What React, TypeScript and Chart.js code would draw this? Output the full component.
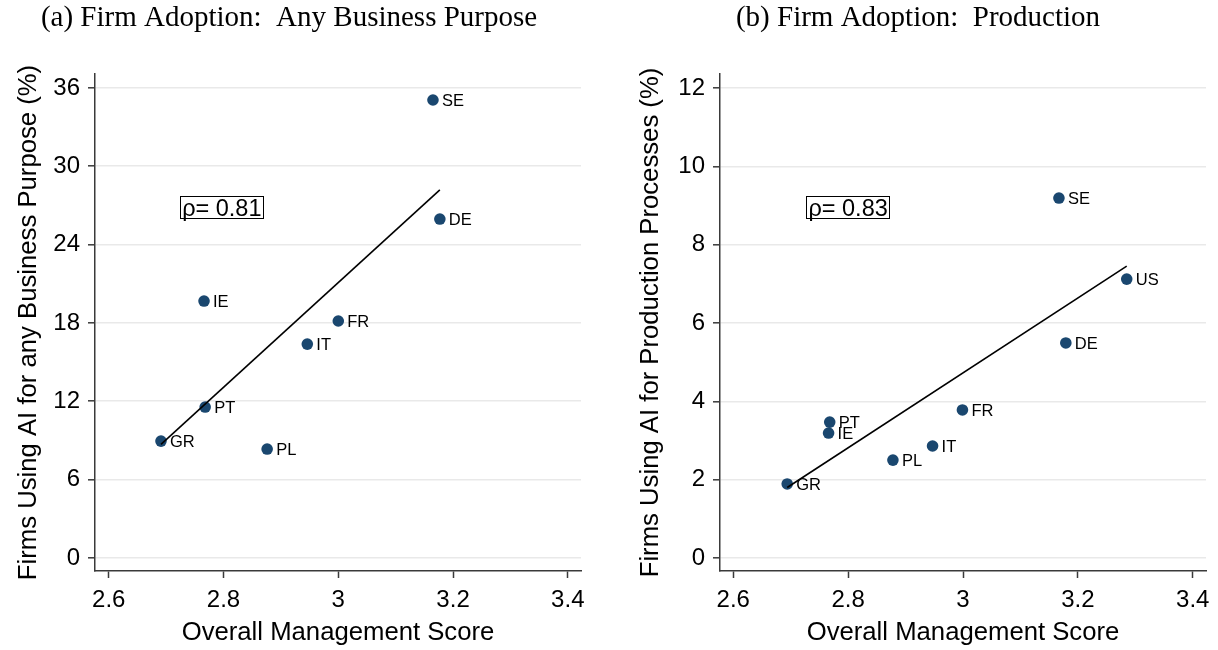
import React, { useEffect, useRef } from "react";
import { Chart, registerables } from "chart.js";

Chart.register(...registerables);

// ---------- data ----------
const xTicks = [2.6, 2.8, 3, 3.2, 3.4];

const countriesA = ["SE", "DE", "IE", "FR", "IT", "PT", "GR", "PL"];
const mgmtA = [3.165, 3.177, 2.766, 3.0, 2.946, 2.768, 2.691, 2.876];
const adoptAny = [35.08, 25.96, 19.68, 18.15, 16.38, 11.56, 8.95, 8.34];
const fitAnyX = [2.691, 3.177];
const fitAnyY = [8.7, 28.2];
const yTicksA = [0, 6, 12, 18, 24, 30, 36];
const rhoA = "ρ= 0.81";

const countriesB = ["SE", "US", "DE", "FR", "PT", "IE", "IT", "PL", "GR"];
const mgmtB = [3.167, 3.285, 3.179, 2.999, 2.768, 2.766, 2.947, 2.878, 2.694];
const adoptProd = [9.19, 7.12, 5.49, 3.78, 3.47, 3.19, 2.86, 2.5, 1.89];
const fitProdX = [2.694, 3.285];
const fitProdY = [1.8, 7.45];
const yTicksB = [0, 2, 4, 6, 8, 10, 12];
const rhoB = "ρ= 0.83";

// ---------- styles ----------
const SANS = "'Liberation Sans', Arial, sans-serif";
const SERIF = "'Liberation Serif', 'Times New Roman', serif";
const NAVY = "#1a476f";
const AXIS = "#3a3a3a";
const GRID = "#e9e9e9";

type PanelProps = {
  left: number;
  title: string;
  titleX: number;
  yTitle: string;
  yTitlePad: number;
  yWidth: number;
  padRight: number;
  xMin: number;
  xMax: number;
  yMin: number;
  yMax: number;
  yTicks: number[];
  labels: string[];
  xs: number[];
  ys: number[];
  fitX: number[];
  fitY: number[];
  rho: string;
  rhoX: number;
  rhoY: number;
};

const decorPlugin = {
  id: "panelDecor",
  afterDatasetsDraw(chart: any, _args: any, opts: any) {
    const ctx = chart.ctx as CanvasRenderingContext2D;
    ctx.save();
    // point labels
    const meta = chart.getDatasetMeta(1);
    ctx.font = `16.5px ${SANS}`;
    ctx.fillStyle = "#000";
    ctx.textAlign = "left";
    ctx.textBaseline = "middle";
    meta.data.forEach((pt: any, i: number) => {
      ctx.fillText(opts.labels[i], pt.x + 9, pt.y + 1.5);
    });
    // rho box
    const cx = chart.scales.x.getPixelForValue(opts.rhoX);
    const cy = chart.scales.y.getPixelForValue(opts.rhoY);
    ctx.font = `23.5px ${SANS}`;
    const w = ctx.measureText(opts.rho).width;
    ctx.textAlign = "center";
    ctx.textBaseline = "alphabetic";
    ctx.fillText(opts.rho, cx, cy + 8.5);
    ctx.strokeStyle = "#000";
    ctx.lineWidth = 1;
    ctx.strokeRect(Math.round(cx - w / 2 - 2) + 0.5, Math.round(cy - 11) + 0.5, Math.round(w + 4), 22);
    // panel title
    ctx.font = `29px ${SERIF}`;
    ctx.textAlign = "center";
    ctx.textBaseline = "middle";
    ctx.fillText(opts.title, opts.titleX, 18);
    ctx.restore();
  },
};

function Panel(p: PanelProps) {
  const ref = useRef<HTMLCanvasElement | null>(null);
  useEffect(() => {
    if (!ref.current) return;
    const points = p.xs.map((x, i) => ({ x, y: p.ys[i] }));
    const fit = p.fitX.map((x, i) => ({ x, y: p.fitY[i] }));
    const chart = new Chart(ref.current, {
      type: "scatter",
      data: {
        datasets: [
          {
            type: "line",
            data: fit,
            borderColor: "#000",
            borderWidth: 1.6,
            pointRadius: 0,
            fill: false,
            showLine: true,
          } as any,
          {
            data: points,
            backgroundColor: NAVY,
            borderWidth: 0,
            pointRadius: 5.8,
            pointHoverRadius: 5.8,
          },
        ],
      },
      options: {
        responsive: false,
        animation: false,
        devicePixelRatio: 1,
        layout: { padding: { top: 74, right: p.padRight, bottom: 0, left: 0 } },
        plugins: {
          legend: { display: false },
          tooltip: { enabled: false },
          title: { display: false },
          panelDecor: {
            labels: p.labels,
            rho: p.rho,
            rhoX: p.rhoX,
            rhoY: p.rhoY,
            title: p.title,
            titleX: p.titleX,
          },
        } as any,
        scales: {
          x: {
            type: "linear",
            min: p.xMin,
            max: p.xMax,
            afterBuildTicks: (s: any) => {
              s.ticks = xTicks.map((v) => ({ value: v }));
            },
            afterFit: (s: any) => {
              s.height = 79;
            },
            grid: {
              drawOnChartArea: false,
              drawTicks: true,
              tickLength: 7,
              tickColor: AXIS,
              tickWidth: 1.5,
            },
            border: { color: AXIS, width: 1.5 },
            ticks: {
              font: { family: SANS, size: 24 },
              color: "#000",
              padding: 8,
              maxRotation: 0,
              autoSkip: false,
              callback: (v: any) => String(v),
            },
            title: {
              display: true,
              text: "Overall Management Score",
              font: { family: SANS, size: 25.7 },
              color: "#000",
              padding: { top: 0, bottom: 2 },
            },
          },
          y: {
            type: "linear",
            min: p.yMin,
            max: p.yMax,
            afterBuildTicks: (s: any) => {
              s.ticks = p.yTicks.map((v) => ({ value: v }));
            },
            afterFit: (s: any) => {
              s.width = p.yWidth;
            },
            grid: {
              color: GRID,
              lineWidth: 1.6,
              drawOnChartArea: true,
              drawTicks: true,
              tickLength: 7,
              tickColor: AXIS,
              tickWidth: 1.5,
            },
            border: { color: AXIS, width: 1.5 },
            ticks: {
              font: { family: SANS, size: 24 },
              color: "#000",
              padding: 8,
              autoSkip: false,
              callback: (v: any) => String(v),
            },
            title: {
              display: true,
              text: p.yTitle,
              font: { family: SANS, size: 25.7 },
              color: "#000",
              padding: { top: p.yTitlePad, bottom: 0 },
            },
          },
        },
      },
      plugins: [decorPlugin],
    } as any);
    return () => chart.destroy();
  }, []);
  return (
    <canvas
      ref={ref}
      width={609}
      height={650}
      style={{ position: "absolute", left: p.left, top: 0, width: 609, height: 650 }}
    />
  );
}

export default function App() {
  return (
    <div style={{ position: "absolute", left: 0, top: 0, width: 1218, height: 650, background: "#fff" }}>
      <Panel
        left={0}
        title="(a) Firm Adoption:  Any Business Purpose"
        titleX={289}
        yTitle="Firms Using AI for any Business Purpose (%)"
        yTitlePad={13}
        yWidth={95}
        padRight={28}
        xMin={2.576}
        xMax={3.423}
        yMin={-1.0}
        yMax={37.07}
        yTicks={yTicksA}
        labels={countriesA}
        xs={mgmtA}
        ys={adoptAny}
        fitX={fitAnyX}
        fitY={fitAnyY}
        rho={rhoA}
        rhoX={2.797}
        rhoY={26.88}
      />
      <Panel
        left={609}
        title="(b) Firm Adoption:  Production"
        titleX={309}
        yTitle="Firms Using AI for Production Processes (%)"
        yTitlePad={26}
        yWidth={111}
        padRight={12}
        xMin={2.577}
        xMax={3.423}
        yMin={-0.332}
        yMax={12.357}
        yTicks={yTicksB}
        labels={countriesB}
        xs={mgmtB}
        ys={adoptProd}
        fitX={fitProdX}
        fitY={fitProdY}
        rho={rhoB}
        rhoX={2.8}
        rhoY={8.96}
      />
    </div>
  );
}
